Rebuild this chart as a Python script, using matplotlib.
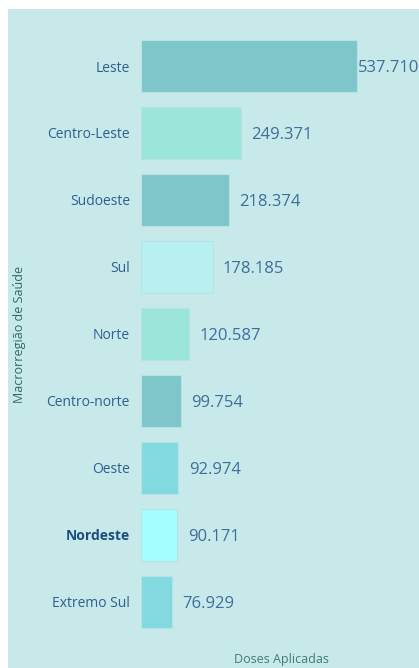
import numpy as np
import matplotlib.pyplot as plt
from matplotlib.patches import Rectangle

# dados
regioes = ['Leste', 'Centro-Leste', 'Sudoeste', 'Sul', 'Norte',
           'Centro-norte', 'Oeste', 'Nordeste', 'Extremo Sul']
doses = [537710, 249371, 218374, 178185, 120587, 99754, 92974, 90171, 76929]
cores = ['#7FC6CA', '#9CE5DA', '#7FC6CA', '#B8EFF0', '#9CE5DA',
         '#7FC6CA', '#83D9E0', '#A3FFFF', '#83D9E0']

plt.rcParams['font.family'] = ['Open Sans', 'DejaVu Sans']

W, H = 419, 668
fig = plt.figure(figsize=(W / 100, H / 100), dpi=100)
fig.patch.set_facecolor('white')

# fundo do visual
fig.patches.append(Rectangle((8 / W, 0), 1 - 8 / W, 1 - 9 / H,
                             transform=fig.transFigure, facecolor='#C8E9EA',
                             edgecolor='none', zorder=-5))

ax = fig.add_axes([141 / W, 0, 1 - 141 / W, 1])
ax.set_zorder(5)
ax.set_facecolor('none')

y = np.arange(len(regioes))
ax.barh(y, doses, height=0.78, color=cores, edgecolor='#B4E4E6', linewidth=0.8)

# escalas
px_x = (W - 141) / 216 * max(doses)
ax.set_xlim(0, px_x)
u = 8 / 535.7
ax.set_ylim(8 + (H - 601.7) * u, -66 * u)

for i, v in enumerate(doses):
    txt = f'{v:,}'.replace(',', '.')
    off = 0.5 if v == max(doses) else 7.5
    ax.annotate(txt, (v, i), xytext=(off, -1.5), textcoords='offset points',
                va='center', ha='left', fontsize=12, color='#3D6E9C',
                annotation_clip=False)

ax.set_yticks(y)
ax.set_yticklabels(regioes, fontsize=10, color='#2F5F8F')
for lbl in ax.get_yticklabels():
    if lbl.get_text() == 'Nordeste':
        lbl.set_fontweight('bold')
        lbl.set_color('#1C4E80')
ax.tick_params(axis='y', length=0, pad=8)
ax.set_xticks([])
for s in ax.spines.values():
    s.set_visible(False)

fig.text(20 / W, 1 - 334 / H, 'Macrorregião de Saúde', rotation=90,
         ha='center', va='center', fontsize=9, color='#2E6B5A', zorder=6)
fig.text(281 / W, 1 - 659 / H, 'Doses Aplicadas', ha='center', va='center',
         fontsize=9, color='#3E7D72', zorder=6)

fig.savefig('out.png', dpi=100)
